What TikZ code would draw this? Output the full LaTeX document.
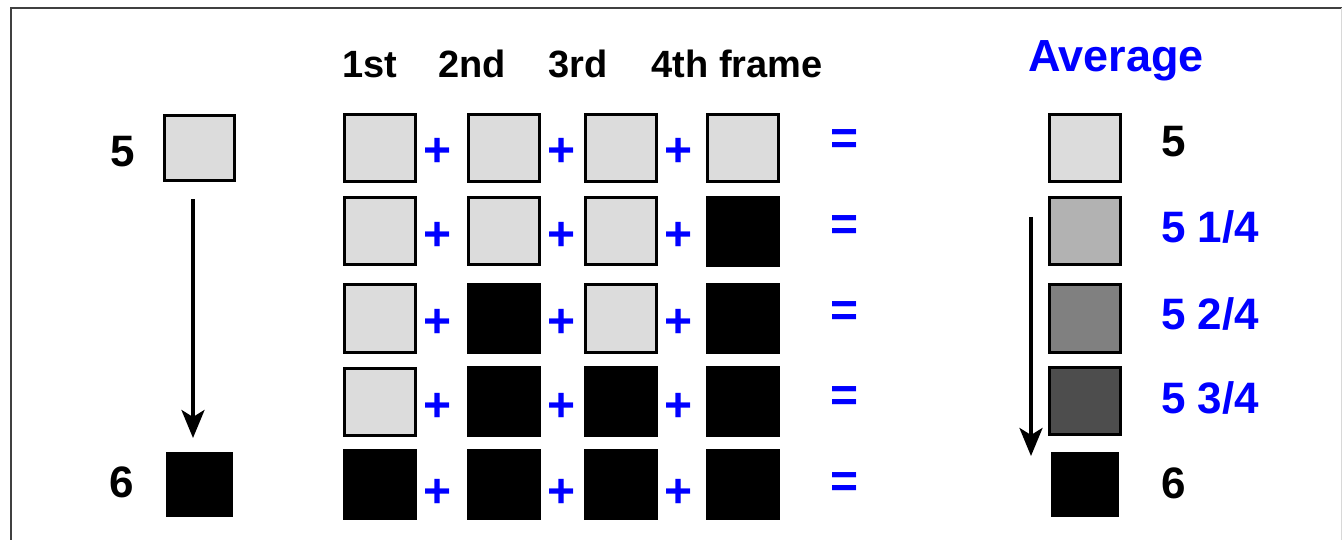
\documentclass[tikz,border=0pt]{standalone}
\usepackage{fontspec}
\setmainfont{Liberation Sans}
\usetikzlibrary{arrows.meta}
\definecolor{g1}{HTML}{DCDCDC}
\definecolor{g2}{HTML}{B2B2B2}
\definecolor{g3}{HTML}{808080}
\definecolor{g4}{HTML}{4D4D4D}
\definecolor{pblue}{HTML}{0000FF}
\definecolor{framec}{HTML}{404040}
\definecolor{framer}{HTML}{D8D8D8}
\begin{document}
\begin{tikzpicture}[x=1pt,y=-1pt,
 sq/.style={draw=black,line width=3pt,minimum width=71pt,minimum height=67pt,inner sep=0pt,outer sep=0pt},
 lsq/.style={sq,fill=g1},
 bsq/.style={fill=black,draw=none,minimum width=74pt,minimum height=71pt,inner sep=0pt,outer sep=0pt},
 sbsq/.style={fill=black,draw=none,minimum width=68pt,minimum height=65pt,inner sep=0pt,outer sep=0pt},
 op/.style={text=pblue,font=\fontsize{48}{52}\selectfont\bfseries,inner sep=0pt},
 hdr/.style={font=\fontsize{38}{44}\selectfont\bfseries,anchor=base,inner sep=0pt},
 lbl/.style={font=\fontsize{44}{50}\selectfont\bfseries,anchor=base west,inner sep=0pt},
 arr/.style={line width=3.5pt,-{Stealth[length=28pt,width=23pt,inset=7pt]}}]
\useasboundingbox (0,0) rectangle (1342,540);
% frame
\draw[framec,line width=2pt] (11,540) -- (11,8) -- (1342,8);
\draw[framer,line width=1pt] (1341,8) -- (1341,540);

% headers
\node[hdr] (h1) at (370,78) {1st};
\node[hdr] (h2) at (472,78) {2nd};
\node[hdr] (h3) at (578,78) {3rd};
\node[hdr] (h4) at (737,78) {4th frame};
\node[hdr,text=pblue,font=\fontsize{45}{50}\selectfont\bfseries] (havg) at (1116,72) {Average};

% left column
\node[sq,fill=g1,minimum width=70pt,minimum height=65pt] (L5) at (199.5,148) {};
\node[sbsq,minimum width=67pt] (L6) at (199.5,484.5) {};
\node[lbl] (t5) at (110,167) {5};
\node[lbl] (t6) at (109,497) {6};
\draw[arr] ([xshift=-6.5pt,yshift=-19pt]L5.south) -- ([xshift=-6.5pt,yshift=14pt]L6.north);

% matrix row 1
\node[lsq] (r1c1) at (380,148) {};
\node[lsq] (r1c2) at (504,148) {};
\node[lsq] (r1c3) at (621,148) {};
\node[lsq] (r1c4) at (742.5,148) {};
% row 2
\node[lsq] (r2c1) at (380,231.5) {};
\node[lsq] (r2c2) at (504,231.5) {};
\node[lsq] (r2c3) at (621,231.5) {};
\node[bsq] (r2c4) at (742.5,231.5) {};
% row 3
\node[lsq] (r3c1) at (380,318.5) {};
\node[bsq] (r3c2) at (504,318.5) {};
\node[lsq] (r3c3) at (621,318.5) {};
\node[bsq] (r3c4) at (742.5,318.5) {};
% row 4
\node[lsq] (r4c1) at (380,401.5) {};
\node[bsq] (r4c2) at (504,401.5) {};
\node[bsq] (r4c3) at (621,401.5) {};
\node[bsq] (r4c4) at (742.5,401.5) {};
% row 5
\node[bsq] (r5c1) at (380,484) {};
\node[bsq] (r5c2) at (504,484) {};
\node[bsq] (r5c3) at (621,484) {};
\node[bsq] (r5c4) at (742.5,484) {};

% plus signs
\foreach \r/\y in {1/152,2/236,3/323,4/407,5/493}{
  \node[op] (p\r a) at (438,\y) {+};
  \node[op] (p\r b) at (562,\y) {+};
  \node[op] (p\r c) at (679,\y) {+};
}
% equal signs
\foreach \r/\y in {1/142,2/228,3/314,4/399,5/485}{
  \node[op] (e\r) at (845,\y) {=};
}

% average column
\node[sq,fill=g1] (a1) at (1085,148) {};
\node[sq,fill=g2] (a2) at (1085,231.5) {};
\node[sq,fill=g3] (a3) at (1085,318.5) {};
\node[sq,fill=g4] (a4) at (1085,401) {};
\node[sbsq] (a5) at (1085,484.5) {};

\node[lbl] (v1) at (1161,157) {5};
\node[lbl,text=pblue] (v2) at (1161,243) {5 1/4};
\node[lbl,text=pblue] (v3) at (1161,329) {5 2/4};
\node[lbl,text=pblue] (v4) at (1161,413) {5 3/4};
\node[lbl] (v5) at (1161,498) {6};

\coordinate (ra) at (1031,217);
\coordinate (rb) at (1031,456);
\draw[arr] (ra) -- (rb);
\end{tikzpicture}
\end{document}
